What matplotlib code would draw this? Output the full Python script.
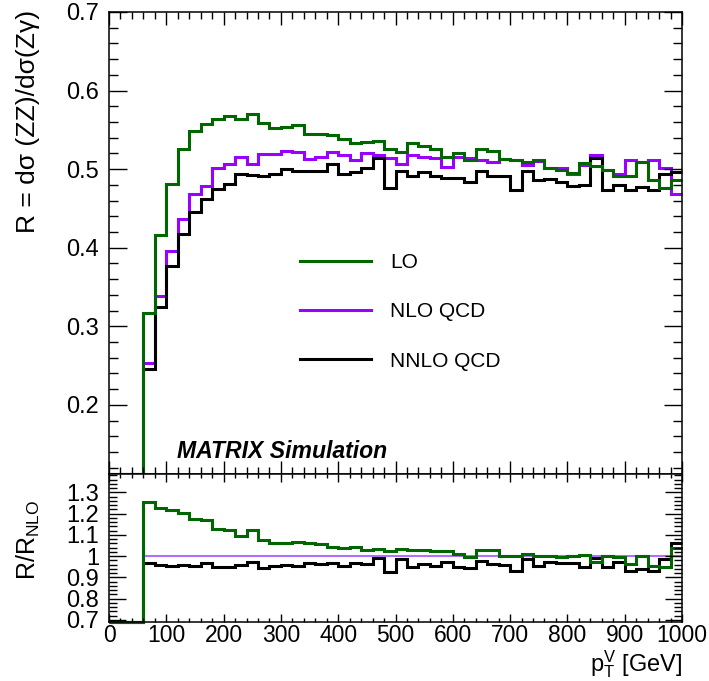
import numpy as np
import matplotlib
matplotlib.use('Agg')
import matplotlib.pyplot as plt
from matplotlib.ticker import MultipleLocator, FormatStrFormatter

###################################################################
## data: R = dsigma(ZZ)/dsigma(Zgamma) per 20 GeV bin of pT^V

edges = [0] + list(range(60, 1001, 20))   ## bin edges (GeV), first bin 0-60 is empty

R_LO = [0.0,
        0.317, 0.416, 0.481, 0.525, 0.549, 0.558, 0.564, 0.567, 0.564, 0.570,
        0.559, 0.552, 0.554, 0.556, 0.545, 0.545, 0.544, 0.538, 0.533, 0.535,
        0.536, 0.525, 0.522, 0.533, 0.530, 0.525, 0.515, 0.520, 0.511, 0.525,
        0.523, 0.513, 0.511, 0.509, 0.511, 0.501, 0.499, 0.495, 0.508, 0.504,
        0.499, 0.491, 0.491, 0.509, 0.486, 0.476, 0.486]

R_NLO = [0.0,
         0.253, 0.339, 0.396, 0.437, 0.468, 0.478, 0.501, 0.506, 0.516, 0.507,
         0.519, 0.519, 0.523, 0.522, 0.513, 0.516, 0.522, 0.518, 0.512, 0.521,
         0.518, 0.514, 0.506, 0.518, 0.516, 0.514, 0.503, 0.515, 0.514, 0.511,
         0.509, 0.513, 0.511, 0.505, 0.510, 0.502, 0.501, 0.494, 0.505, 0.518,
         0.499, 0.494, 0.511, 0.509, 0.511, 0.502, 0.468]

R_NNLO = [0.0,
          0.245, 0.324, 0.377, 0.418, 0.445, 0.462, 0.475, 0.481, 0.494, 0.493,
          0.491, 0.494, 0.500, 0.497, 0.497, 0.497, 0.506, 0.494, 0.496, 0.501,
          0.514, 0.476, 0.498, 0.491, 0.496, 0.491, 0.489, 0.489, 0.484, 0.498,
          0.491, 0.491, 0.474, 0.497, 0.486, 0.488, 0.484, 0.478, 0.480, 0.514,
          0.474, 0.480, 0.474, 0.477, 0.474, 0.494, 0.496]

labels = ['LO', 'NLO QCD', 'NNLO QCD']
colors = ['#006600', '#9900ff', 'black']

###################################################################
## derived: ratios to NLO (empty bins -> 0, as ROOT does)

edges = np.array(edges, dtype=float)
R_LO, R_NLO, R_NNLO = (np.array(a) for a in (R_LO, R_NLO, R_NNLO))
nz = R_NLO > 0
def ratio(a):
    r = np.zeros_like(a)
    r[nz] = a[nz] / R_NLO[nz]
    return r

top_ylim = (0.112, 0.7)
bot_ylim = (0.692, 1.386)

###################################################################
# plotting
plt.rcParams['font.family'] = ['Liberation Sans', 'DejaVu Sans']
plt.rcParams['mathtext.fontset'] = 'custom'
plt.rcParams['mathtext.rm'] = 'Liberation Sans'
plt.rcParams['mathtext.it'] = 'Liberation Sans:italic'

fig = plt.figure(figsize=(7.09, 6.81), dpi=100)
ax = fig.add_axes([109/709, 1-474/681, 573/709, 462/681])
axr = fig.add_axes([109/709, 1-621.5/681, 573/709, 147.5/681])

lw = 2.2
for vals, lab, col in [(R_NLO, labels[1], colors[1]),
                       (R_NNLO, labels[2], colors[2]),
                       (R_LO, labels[0], colors[0])]:
    ax.stairs(np.clip(vals, *top_ylim), edges, color=col, lw=lw, label=lab,
              baseline=None, clip_on=False)

axr.stairs(np.clip(ratio(R_NLO), *bot_ylim), edges, color='#b070ff', lw=1.5,
           baseline=None, clip_on=False)
axr.stairs(np.clip(ratio(R_NNLO), *bot_ylim), edges, color='black', lw=lw,
           baseline=None, clip_on=False)
axr.stairs(np.clip(ratio(R_LO), *bot_ylim), edges, color=colors[0], lw=lw,
           baseline=None, clip_on=False)

for a, yl in [(ax, top_ylim), (axr, bot_ylim)]:
    a.set_xlim(0, 1000)
    a.set_ylim(*yl)
    a.xaxis.set_major_locator(MultipleLocator(100))
    a.xaxis.set_minor_locator(MultipleLocator(20))
    a.yaxis.set_major_locator(MultipleLocator(0.1))
    a.yaxis.set_minor_locator(MultipleLocator(0.02))
    a.yaxis.set_major_formatter(FormatStrFormatter('%g'))
    for s in a.spines.values():
        s.set_linewidth(1.1)
    a.tick_params(which='both', direction='in', top=True, right=True, width=1.0,
                  labelsize=17, pad=7)

ax.tick_params(axis='y', which='major', length=13)
ax.tick_params(axis='y', which='minor', length=6.5)
ax.tick_params(axis='x', which='major', length=9.5)
ax.tick_params(axis='x', which='minor', length=5)
ax.tick_params(axis='x', labelbottom=False)
axr.tick_params(axis='y', which='major', length=12)
axr.tick_params(axis='y', which='minor', length=6)
axr.tick_params(axis='x', which='major', length=6)
axr.tick_params(axis='x', which='minor', length=3)
axr.tick_params(axis='x', pad=2, labelsize=16.5)

fig.text(28/709, 1-121/681, 'R = dσ (ZZ)/dσ(Zγ)', rotation=90,
         ha='center', va='center', fontsize=19)
fig.text(28/709, 1-540/681, r'R/R$_{\mathrm{NLO}}$', rotation=90,
         ha='center', va='center', fontsize=18)
axr.text(1.0, -0.18, r'p$_{\mathrm{T}}^{\mathrm{V}}$ [GeV]', transform=axr.transAxes,
         ha='right', va='top', fontsize=17)

ax.text(118, 0.141, 'MATRIX Simulation', fontsize=16.6, fontweight='bold',
        fontstyle='italic', va='center', ha='left')

h, l = ax.get_legend_handles_labels()
order = [l.index(s) for s in labels]
ax.legend([h[i] for i in order], [l[i] for i in order], loc='upper left',
          bbox_to_anchor=(0.333, 0.478), frameon=False, fontsize=15,
          handlelength=3.4, handletextpad=0.95, labelspacing=1.45, borderpad=0,
          borderaxespad=0)

fig.savefig('out.png', dpi=100)
